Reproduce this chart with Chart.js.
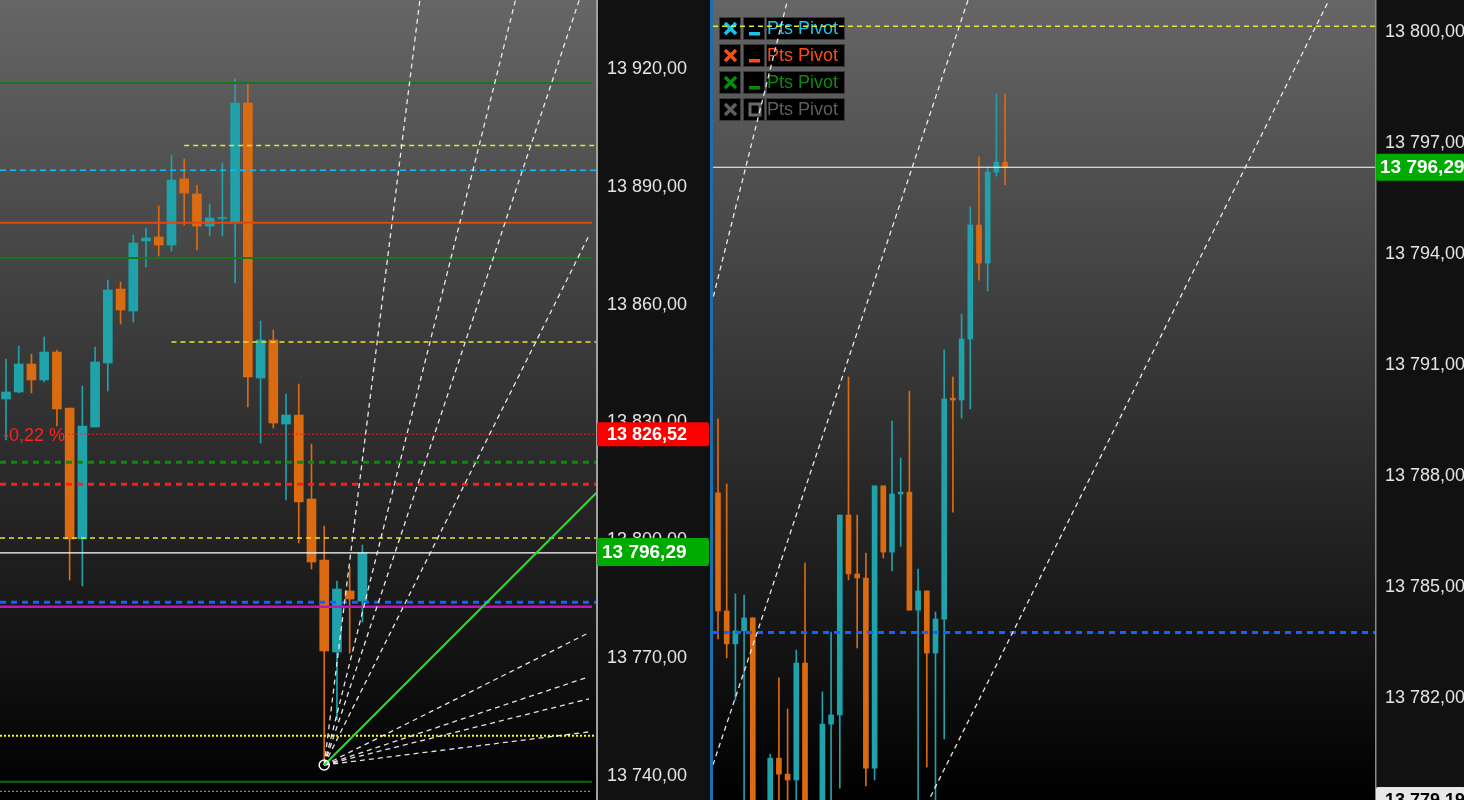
<!DOCTYPE html>
<html>
<head>
<meta charset="utf-8">
<script src="https://cdn.jsdelivr.net/npm/chart.js@4.4.1/dist/chart.umd.min.js"></script>
<style>
  html, body { margin: 0; padding: 0; background: #111; overflow: hidden; }
  #wrap { position: relative; width: 1464px; height: 800px; }
  #leftChart { position: absolute; left: 0; top: 0; width: 710px; height: 800px; }
  #rightChart { position: absolute; left: 713px; top: 0; width: 751px; height: 800px; }
  #divider { position: absolute; left: 710px; top: 0; width: 3px; height: 800px; background: #1a6fae; }
</style>
</head>
<body>
<div id="wrap">
  <canvas id="leftChart" width="710" height="800"></canvas>
  <div id="divider"></div>
  <canvas id="rightChart" width="751" height="800"></canvas>
</div>
<script>
// ---- left panel candles (bar index 0..28) ----
const leftOpen  = [13835.48, 13837.26, 13844.39, 13840.32, 13847.44, 13833.19, 13799.84, 13828.35, 13844.64, 13863.48, 13857.88, 13875.70, 13876.72, 13874.68, 13891.49, 13887.67, 13879.52, 13881.45, 13880.54, 13910.84, 13840.82, 13850.50, 13829.11, 13831.41, 13810.02, 13794.49, 13771.07, 13786.60, 13784.05];
const leftHigh  = [13845.66, 13848.97, 13846.93, 13851.26, 13847.95, 13833.19, 13838.79, 13848.72, 13865.77, 13865.27, 13877.23, 13879.01, 13884.61, 13897.60, 13896.58, 13889.96, 13885.12, 13895.56, 13916.95, 13916.18, 13855.34, 13853.04, 13836.75, 13839.30, 13824.02, 13803.15, 13789.15, 13792.71, 13798.31];
const leftLow   = [13825.04, 13837.01, 13837.01, 13839.81, 13828.60, 13789.40, 13787.87, 13828.35, 13837.52, 13854.57, 13855.08, 13869.08, 13871.88, 13873.16, 13879.78, 13873.41, 13876.98, 13876.98, 13865.01, 13833.44, 13824.28, 13828.10, 13809.77, 13798.82, 13792.20, 13742.30, 13753.76, 13770.81, 13778.71];
const leftClose = [13837.26, 13844.39, 13840.32, 13847.44, 13832.93, 13799.84, 13828.60, 13844.90, 13863.23, 13858.14, 13875.19, 13876.47, 13874.68, 13891.23, 13887.92, 13879.52, 13881.56, 13881.70, 13910.84, 13841.08, 13850.50, 13829.37, 13831.41, 13809.26, 13793.98, 13771.32, 13787.11, 13784.56, 13796.29];

// ---- right panel candles (bar index 0..33, slots 5 and 11 sit below the view) ----
const rightOpen  = [13787.49, 13784.30, 13783.41, 13783.76, 13784.11, 13778.60, 13779.00, 13780.32, 13779.89, 13779.73, 13782.89, 13778.50, 13779.00, 13781.24, 13781.49, 13786.89, 13785.30, 13785.19, 13780.05, 13787.68, 13785.89, 13787.46, 13787.51, 13784.32, 13784.84, 13783.16, 13784.08, 13790.05, 13790.00, 13791.65, 13794.73, 13793.70, 13796.16, 13796.43];
const rightHigh  = [13789.49, 13787.73, 13784.76, 13784.73, 13784.11, 13778.90, 13780.43, 13782.49, 13781.65, 13783.24, 13785.59, 13778.90, 13782.11, 13783.73, 13786.89, 13790.62, 13786.89, 13785.86, 13787.68, 13787.68, 13789.43, 13788.43, 13790.24, 13785.43, 13784.84, 13784.27, 13791.35, 13790.62, 13792.32, 13795.22, 13796.57, 13796.30, 13798.27, 13798.27];
const rightLow   = [13783.54, 13783.03, 13781.89, 13778.80, 13778.50, 13777.60, 13778.50, 13778.80, 13778.80, 13778.80, 13778.50, 13777.80, 13778.50, 13778.80, 13779.51, 13785.14, 13783.30, 13779.57, 13779.73, 13785.73, 13785.38, 13786.05, 13784.32, 13778.80, 13780.08, 13778.80, 13780.84, 13786.97, 13789.51, 13789.76, 13793.24, 13792.95, 13796.05, 13795.81];
const rightClose = [13784.30, 13783.41, 13783.76, 13784.11, 13778.80, 13778.10, 13780.32, 13779.89, 13779.73, 13782.89, 13778.90, 13778.30, 13781.24, 13781.49, 13786.89, 13785.30, 13785.19, 13780.05, 13787.68, 13785.89, 13787.46, 13787.51, 13784.32, 13784.84, 13783.16, 13784.08, 13790.03, 13790.00, 13791.65, 13794.73, 13793.70, 13796.16, 13796.43, 13796.29];

// ---- horizontal levels ----
const leftLevels     = [13915.93, 13900.00, 13893.70, 13880.36, 13871.37, 13850.00, 13826.52, 13819.36, 13813.76, 13800.10, 13796.29, 13783.72, 13782.61, 13749.76, 13738.05, 13735.60];
const leftLevelFrom  = [null, 14, null, null, null, 13, 4.87, null, null, null, null, null, null, null, null, null];
const leftLevelStyle = ['green', 'yellowDash', 'cyanDash', 'orangeSolid', 'green', 'yellowDash', 'redDot', 'greenDash', 'redDash', 'yellowDash', 'white', 'blueDash', 'magenta', 'yellowDot', 'darkGreen', 'grayDot'];
const rightLevels     = [13800.10, 13796.29, 13783.72];
const rightLevelStyle = ['yellowDash', 'white', 'blueDash'];

const lastPrice = 13796.29;
const pctLevel = 13826.52;
const pctText = '-0,22 %';
const rightLowLabel = 13779.19;

// ---- Gann fan ----
const fanRatios = [8, 4, 3, 2, 1, 1 / 2, 1 / 3, 1 / 4, 1 / 8];
const leftFanOrigin = [25, 13742.30];
const leftFanUnit = 3.24;      // price per bar on the 1x1 line
const rightFanOrigin = [-54.25, 13742.30];
const rightFanUnit = 0.235;

// ---- legend ----
const legendLabels = ['Pts Pivot', 'Pts Pivot', 'Pts Pivot', 'Pts Pivot'];
const legendColors = ['#18c4ee', '#ff4a12', '#0b8a0b', '#5e5e5e'];

const teal = '#1fa2aa';
const orange = '#db6b10';
const fontFamily = '"Liberation Sans", Arial, sans-serif';

const styles = {
  green:       { color: '#15771a', width: 2, dash: [], solid: true },
  darkGreen:   { color: '#0b6a10', width: 2, dash: [], solid: true },
  orangeSolid: { color: '#e0480f', width: 2, dash: [], solid: true },
  magenta:     { color: '#c214c2', width: 2.5, dash: [], solid: true },
  white:       { color: '#ffffff', width: 1.2, dash: [] },
  yellowDash:  { color: '#ece62a', width: 1.5, dash: [5, 4] },
  cyanDash:    { color: '#0cbcff', width: 1.5, dash: [6, 4] },
  redDot:      { color: '#ff1c1c', width: 1, dash: [2, 2] },
  greenDash:   { color: '#0c8a0c', width: 3, dash: [6, 5] },
  redDash:     { color: '#ff1c1c', width: 3, dash: [6, 5] },
  blueDash:    { color: '#1262ff', width: 3, dash: [6, 5] },
  yellowDot:   { color: '#ffff10', width: 2, dash: [2, 2] },
  grayDot:     { color: '#a8a8a8', width: 1, dash: [2, 2], solid: true }
};

function fmtPrice(v) {
  const parts = Number(v).toFixed(2).split('.');
  return parts[0].replace(/\B(?=(\d{3})+(?!\d))/g, ' ') + ',' + parts[1];
}

function candleSets(open, high, low, close, bodyWidth) {
  const idx = open.map((_, i) => i);
  const colors = idx.map(i => close[i] >= open[i] ? teal : orange);
  return [
    { type: 'bar', order: 20, grouped: false, barThickness: 1, borderWidth: 0,
      backgroundColor: colors, data: idx.map(i => ({ x: i, y: [low[i], high[i]] })) },
    { type: 'bar', order: 19, grouped: false, barThickness: bodyWidth, minBarLength: 1, borderWidth: 0,
      backgroundColor: colors, data: idx.map(i => ({ x: i, y: [open[i], close[i]] })) }
  ];
}

function levelSets(values, from, styleKeys, xMin, xMax, solidEnd) {
  return values.map((v, i) => {
    const st = styles[styleKeys[i]];
    const x0 = from[i] == null ? xMin : from[i];
    const x1 = st.solid ? solidEnd : xMax;
    return { type: 'line', order: 5, data: [{ x: x0, y: v }, { x: x1, y: v }],
      borderColor: st.color, borderWidth: st.width, borderDash: st.dash,
      pointRadius: 0, fill: false };
  });
}

function fanSets(origin, unit, xEnd) {
  return fanRatios.map(r => {
    const one = r === 1;
    const x1 = one ? xEnd + 10 : xEnd;
    return { type: 'line', order: one ? 1 : 2,
      data: [{ x: origin[0], y: origin[1] }, { x: x1, y: origin[1] + r * unit * (x1 - origin[0]) }],
      borderColor: one ? '#26e026' : 'rgba(240,240,240,0.95)', borderWidth: one ? 2 : 1.3,
      borderDash: one ? [] : [5, 4], pointRadius: 0, fill: false };
  });
}

function drawPanelBg(chart) {
  const { ctx, chartArea: a, width, height } = chart;
  ctx.save();
  ctx.fillStyle = '#111111';
  ctx.fillRect(a.right, 0, width - a.right, height);
  const g = ctx.createLinearGradient(0, a.top, 0, a.bottom);
  g.addColorStop(0, '#666666');
  g.addColorStop(1, '#000000');
  ctx.fillStyle = g;
  ctx.fillRect(a.left, a.top, a.right - a.left, a.bottom - a.top);
  ctx.restore();
}

function drawTag(ctx, x, w, yc, h, bg, fg, text, tx, size) {
  ctx.save();
  ctx.fillStyle = bg;
  ctx.beginPath();
  ctx.roundRect(x, yc - h / 2, w, h, 2);
  ctx.fill();
  ctx.fillStyle = fg;
  ctx.font = 'bold ' + size + 'px ' + fontFamily;
  ctx.textBaseline = 'middle';
  ctx.textAlign = 'left';
  ctx.fillText(text, tx, yc + 1);
  ctx.restore();
}

function baseOptions(xMin, xMax, yMin, yMax, step, axisWidth) {
  return {
    responsive: false,
    animation: false,
    events: [],
    layout: { padding: 0, autoPadding: false },
    plugins: { legend: { display: false }, tooltip: { enabled: false } },
    scales: {
      x: { type: 'linear', min: xMin, max: xMax, display: false, offset: false },
      y: {
        type: 'linear', position: 'right', min: yMin, max: yMax,
        grid: { display: false, drawTicks: false },
        border: { display: false },
        ticks: {
          stepSize: step, includeBounds: false, color: '#e4e4e4', padding: 10, labelOffset: 2,
          font: { family: fontFamily, size: 18 },
          callback: v => fmtPrice(v)
        },
        afterFit: s => { s.width = axisWidth; s.paddingTop = 0; s.paddingBottom = 0; }
      }
    }
  };
}

// ---------- left chart ----------
const leftXMin = -0.471, leftXMax = 46.43;
const leftDecor = {
  id: 'leftDecor',
  beforeDraw: chart => drawPanelBg(chart),
  afterDraw: chart => {
    const { ctx, chartArea: a, scales: { y } } = chart;
    ctx.save();
    ctx.fillStyle = '#a0a0a0';
    ctx.fillRect(a.right - 1, 0, 2, chart.height);
    ctx.fillStyle = '#ff2020';
    ctx.font = '18px ' + fontFamily;
    ctx.textBaseline = 'middle';
    ctx.fillText(pctText, 3, y.getPixelForValue(pctLevel) + 2);
    ctx.restore();
    drawTag(ctx, a.right, chart.width - a.right - 1, y.getPixelForValue(pctLevel), 24, '#ff0000', '#ffffff', fmtPrice(pctLevel), a.right + 10, 18);
    drawTag(ctx, a.right, chart.width - a.right - 1, y.getPixelForValue(lastPrice) - 1, 28, '#00aa00', '#ffffff', fmtPrice(lastPrice), a.right + 5, 19);
  }
};

new Chart(document.getElementById('leftChart'), {
  type: 'bar',
  data: {
    datasets: [
      { type: 'line', order: 0, showLine: false, data: [{ x: leftFanOrigin[0], y: leftFanOrigin[1] }],
        pointRadius: 5, pointBorderColor: '#ffffff', pointBackgroundColor: 'rgba(0,0,0,0)', pointBorderWidth: 1.5 },
      ...fanSets(leftFanOrigin, leftFanUnit, 45.8),
      ...levelSets(leftLevels, leftLevelFrom, leftLevelStyle, leftXMin, leftXMax, 46.03),
      ...candleSets(leftOpen, leftHigh, leftLow, leftClose, 9)
    ]
  },
  options: baseOptions(leftXMin, leftXMax, 13733.39, 13937.06, 30, 113),
  plugins: [leftDecor]
});

// ---------- right chart ----------
const rightXMin = -0.575, rightXMax = 75.52;
const rightDecor = {
  id: 'rightDecor',
  beforeDraw: chart => drawPanelBg(chart),
  beforeDatasetsDraw: chart => {
    const ctx = chart.ctx;
    ctx.save();
    legendLabels.forEach((label, r) => {
      const y0 = 17 + 27 * r;
      const col = legendColors[r];
      [[6, 22], [30, 22], [53, 79]].forEach(([bx, bw]) => {
        ctx.fillStyle = '#000000';
        ctx.fillRect(bx, y0, bw, 23);
        ctx.strokeStyle = '#3a3a3a';
        ctx.lineWidth = 1;
        ctx.strokeRect(bx + 0.5, y0 + 0.5, bw - 1, 22);
      });
      ctx.strokeStyle = col;
      ctx.lineWidth = 3.5;
      ctx.beginPath();
      ctx.moveTo(12, y0 + 6); ctx.lineTo(23, y0 + 17);
      ctx.moveTo(23, y0 + 6); ctx.lineTo(12, y0 + 17);
      ctx.stroke();
      if (r < 3) {
        ctx.fillStyle = col;
        ctx.fillRect(36, y0 + 15, 11, 3.5);
      } else {
        ctx.lineWidth = 3;
        ctx.strokeStyle = '#6a6a6a';
        ctx.strokeRect(37, y0 + 6, 10, 11);
      }
      ctx.fillStyle = col;
      ctx.font = '18px ' + fontFamily;
      ctx.textBaseline = 'middle';
      ctx.textAlign = 'left';
      ctx.fillText(label, 54, y0 + 12);
    });
    ctx.restore();
  },
  afterDraw: chart => {
    const { ctx, chartArea: a, scales: { y } } = chart;
    ctx.save();
    ctx.fillStyle = '#8a8a8a';
    ctx.fillRect(a.right, 0, 1.5, chart.height);
    ctx.restore();
    drawTag(ctx, a.right + 1, chart.width - a.right, y.getPixelForValue(lastPrice), 27, '#00aa00', '#ffffff', fmtPrice(lastPrice), a.right + 5, 19);
    drawTag(ctx, a.right + 1, chart.width - a.right, y.getPixelForValue(rightLowLabel), 26, '#e8e8e8', '#000000', fmtPrice(rightLowLabel), a.right + 10, 18);
  }
};

new Chart(document.getElementById('rightChart'), {
  type: 'bar',
  data: {
    datasets: [
      ...fanSets(rightFanOrigin, rightFanUnit, 80),
      ...levelSets(rightLevels, [null, null, null], rightLevelStyle, rightXMin, rightXMax, rightXMax),
      ...candleSets(rightOpen, rightHigh, rightLow, rightClose, 5)
    ]
  },
  options: baseOptions(rightXMin, rightXMax, 13779.19, 13800.81, 3, 89),
  plugins: [rightDecor]
});
</script>
</body>
</html>
